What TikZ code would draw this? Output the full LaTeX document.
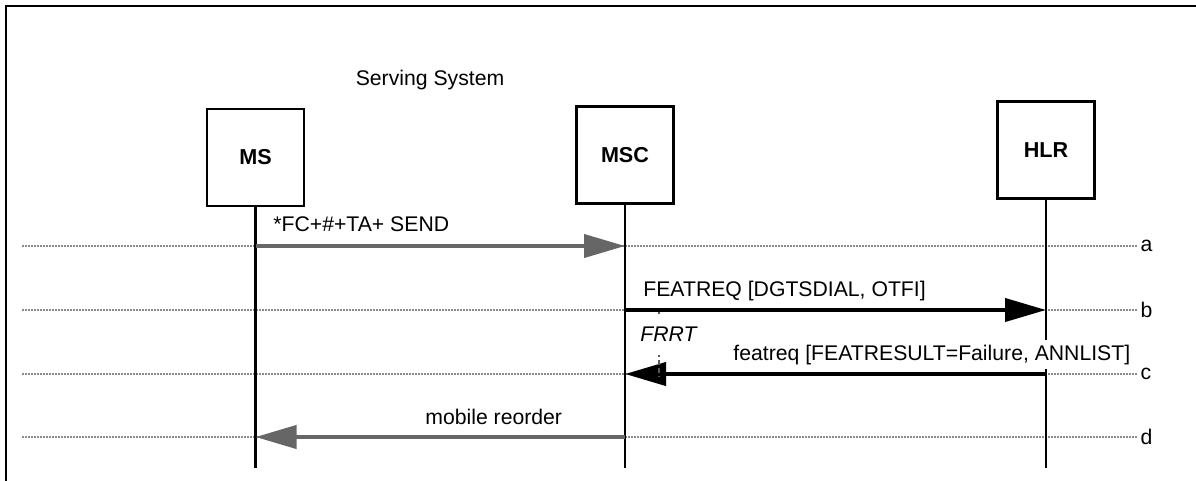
\documentclass[tikz,border=0pt]{standalone}
\usepackage{fontspec}
\setmainfont{Liberation Sans}
\usetikzlibrary{arrows.meta,positioning}
\definecolor{msggray}{HTML}{666666}
\definecolor{stepgray}{HTML}{8C8C8C}

\begin{document}
\begin{tikzpicture}[
  x=0.5pt, y=-0.5pt,
  every node/.style={font=\fontsize{10.6}{12.5}\selectfont},
  ent/.style={draw, line width=1.2pt, minimum width=48.5pt, minimum height=48.5pt, font=\fontsize{10.8}{12.5}\selectfont\bfseries},
  life/.style={line width=1.35pt},
  stepline/.style={stepgray, line width=0.55pt, dash pattern=on 1pt off 0.5pt},
  msg/.style={-{Triangle[length=20.5pt, width=11.5pt]}, line width=2pt},
  lbl/.style={inner sep=0pt, anchor=base west},
  timer/.style={draw=black!65, line width=1pt, dash pattern=on 2.5pt off 1.5pt}
]
\useasboundingbox (0,0) rectangle (1196,481);
% outer frame
\draw[line width=1.3pt] (6,481) -- (6,6) -- (1196,6);

\node[anchor=base] (serving) at (430,86) {Serving System};

\node[ent] (ms) at (255.5,157.5) {MS};
\node[ent] (msc) at (625,155) {MSC};
\node[ent] (hlr) at (1046,150) {HLR};

% steps a-d
\foreach \yy/\st in {246/a,310/b,374/c,437/d}
  \draw[stepline] (22,\yy) -- (1138,\yy) node[right, black, inner sep=1pt] (step\st) {\st};

% lifelines
\coordinate (bottom) at (0,468);
\draw[life] (ms.south) -- (ms.south |- bottom);
\draw[life] (msc.south) -- (msc.south |- bottom);
\draw[life] (hlr.south) -- (hlr.south |- bottom);

% messages
\draw[msg, msggray] (ms.south |- stepa.west) -- (msc.south |- stepa.west);
\draw[msg] (msc.south |- stepb.west) -- (hlr.south |- stepb.west);
\draw[msg] (hlr.south |- stepc.west) -- (msc.south |- stepc.west);
\draw[msg, msggray] (msc.south |- stepd.west) -- (ms.south |- stepd.west);

\node[lbl] (fcsend) at (273,232) {*FC+\#+TA+ SEND};
\node[lbl] (featreq) at (643,297) {FEATREQ [DGTSDIAL, OTFI]};
\node[lbl, fill=white, inner ysep=2.4pt] (featresp) at (733,360) {featreq [FEATRESULT=Failure, ANNLIST]};
\node[lbl] (reorder) at (425,424) {mobile reorder};

% timer
\coordinate (frrtTop) at (659,312);
\coordinate (frrtBot) at (659,377);
\draw[timer] (frrtTop) -- (frrtBot);
\node[fill=white, inner sep=0pt, minimum height=20pt, font=\fontsize{10.6}{12.5}\selectfont\itshape] (frrt) at (668.5,334.5) {FRRT};
\end{tikzpicture}
\end{document}
